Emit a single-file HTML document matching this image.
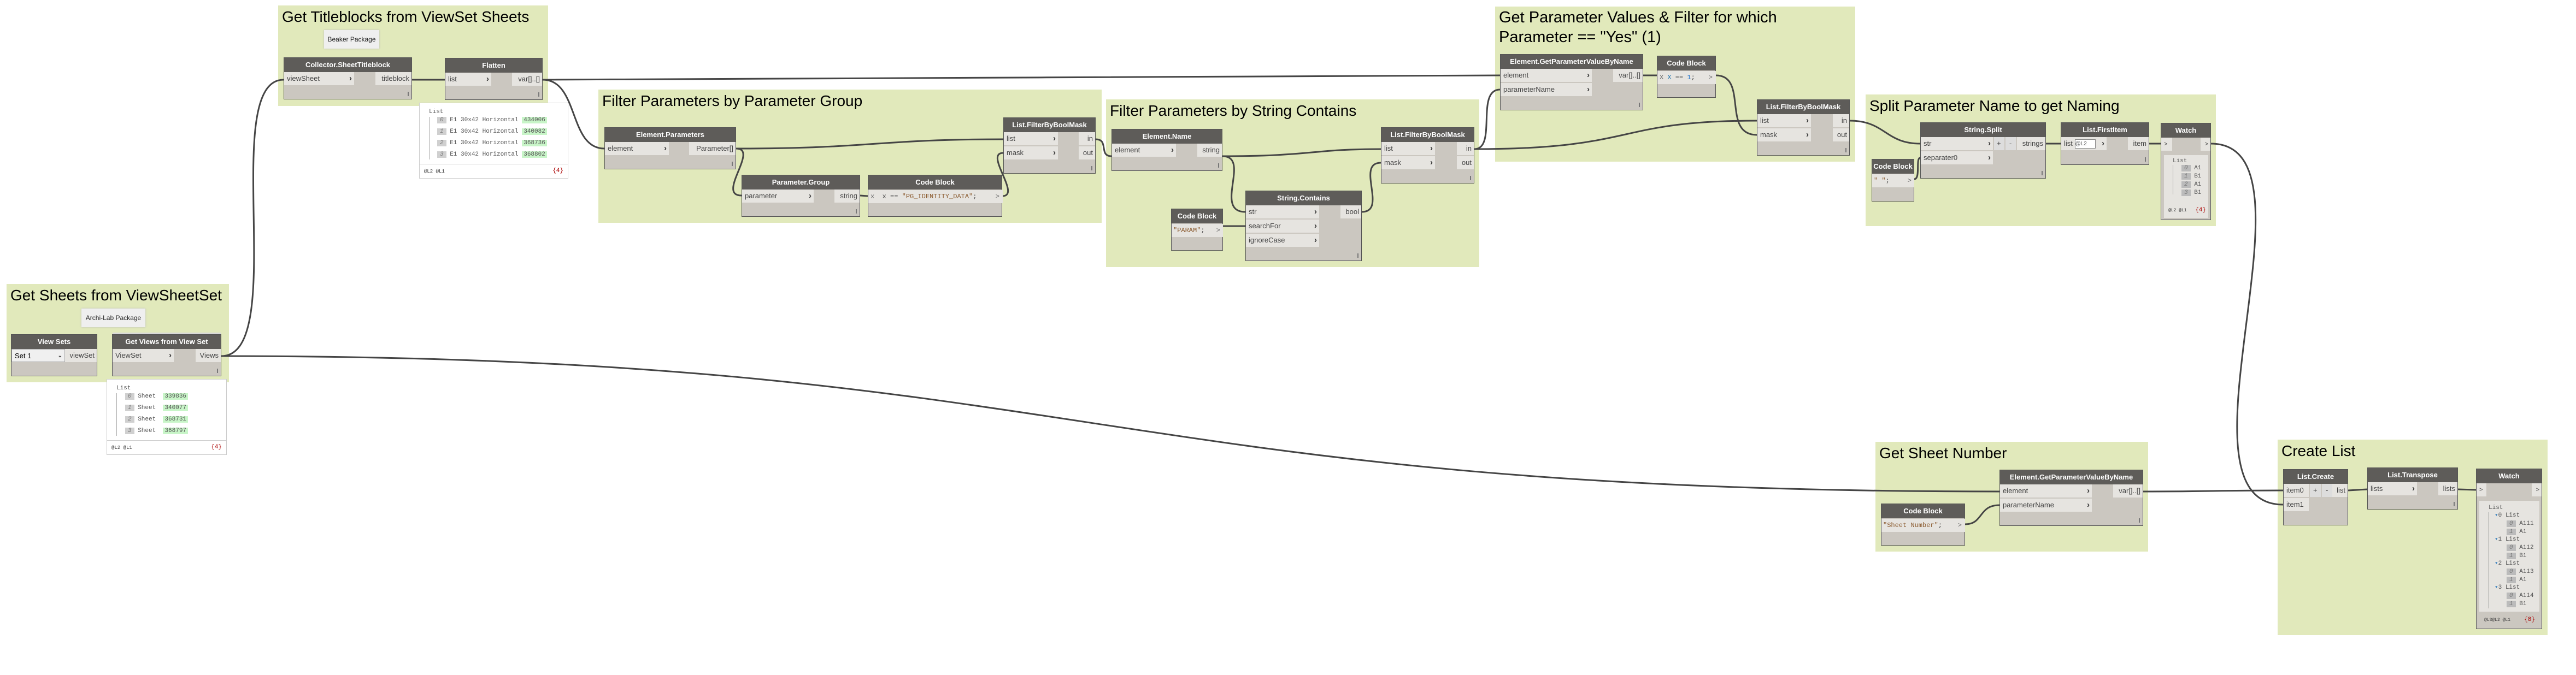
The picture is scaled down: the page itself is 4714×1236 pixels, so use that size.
<!DOCTYPE html>
<html><head><meta charset="utf-8">
<style>
body{margin:0;width:4714px;height:1236px;background:#fff;position:relative;overflow:hidden;font-family:"Liberation Sans",sans-serif}
.g{position:absolute;background:#e1e9bb}
.gt{position:absolute;left:7px;top:4px;font-size:28px;line-height:34px;color:#000;white-space:nowrap}
.note{position:absolute;background:#efefef;box-shadow:0 0 3px #bbb;font-size:12px;color:#222;text-align:center;line-height:34px}
.n{position:absolute;background:#cbc7c0;border:1px solid #555;box-sizing:border-box}
.h{height:26px;background:#5e5c59;color:#fff;font-weight:bold;font-size:13px;text-align:center;line-height:26px;white-space:nowrap;overflow:hidden}
.p{position:absolute;height:24px;background:#e6e4e0;font-size:13px;color:#444;line-height:24px;padding-left:5px;box-sizing:border-box;white-space:nowrap}
.p b{position:absolute;right:4px;top:0;font-size:15px;color:#333}
.o{position:absolute;height:24px;background:#e6e4e0;font-size:13px;color:#444;line-height:24px;padding-right:4px;text-align:right;box-sizing:border-box;white-space:nowrap}
.m{font-family:"Liberation Mono",monospace}
.s{color:#8a5a2e}
.w{position:absolute;background:#fff;border:1px solid #ccc;box-sizing:border-box}
.t{position:absolute;font-family:"Liberation Mono",monospace;font-size:11px;color:#555;white-space:nowrap;line-height:14px}
.ix{background:#d0d0d0;color:#777;font-style:italic;padding:0 5px}
.gr{background:#c8f5c8;padding:0 3px}
.grip{position:absolute;right:5px;bottom:5px;width:2px;height:8px;background:#777}
</style></head><body>

<!-- groups -->
<div class="g" style="left:509px;top:10px;width:494px;height:184px"><div class="gt">Get Titleblocks from ViewSet Sheets</div></div>
<div class="g" style="left:12px;top:520px;width:407px;height:180px"><div class="gt">Get Sheets from ViewSheetSet</div></div>
<div class="g" style="left:1095px;top:164px;width:921px;height:244px"><div class="gt">Filter Parameters by Parameter Group</div></div>
<div class="g" style="left:2024px;top:182px;width:683px;height:307px"><div class="gt">Filter Parameters by String Contains</div></div>
<div class="g" style="left:2736px;top:12px;width:659px;height:284px"><div class="gt" style="line-height:36px;top:2px;font-size:29px">Get Parameter Values &amp; Filter for which<br>Parameter == "Yes" (1)</div></div>
<div class="g" style="left:3414px;top:173px;width:641px;height:241px"><div class="gt">Split Parameter Name to get Naming</div></div>
<div class="g" style="left:3432px;top:809px;width:499px;height:201px"><div class="gt">Get Sheet Number</div></div>
<div class="g" style="left:4168px;top:805px;width:494px;height:358px"><div class="gt">Create List</div></div>

<div class="note" style="left:593px;top:55px;width:101px;height:34px">Beaker Package</div>
<div class="note" style="left:149px;top:565px;width:117px;height:34px">Archi-Lab Package</div>

<!-- wires -->
<svg style="position:absolute;left:0;top:0" width="4714" height="1236" fill="none" stroke="#454545" stroke-width="3">
<path d="M405,652 C530,652 400,146 519,146"/>
<path d="M405,652 C2000,652 2000,900 3659,900"/>
<path d="M754,146 L814,146"/>
<path d="M993,146 C1060,146 1040,272 1106,272"/>
<path d="M993,146 C1900,146 1900,138 2745,138"/>
<path d="M1347,272 C1600,272 1600,255 1836,255"/>
<path d="M1347,272 C1390,272 1310,358 1357,358"/>
<path d="M1574,358 L1588,359"/>
<path d="M1834,359 C1870,359 1800,280 1836,280"/>
<path d="M2005,255 C2030,255 2010,286 2034,286"/>
<path d="M2237,286 C2400,286 2400,273 2527,273"/>
<path d="M2237,286 C2290,286 2220,388 2279,388"/>
<path d="M2238,414 L2279,414"/>
<path d="M2492,388 C2540,388 2480,298 2527,298"/>
<path d="M2698,273 C2740,273 2700,164 2745,164"/>
<path d="M2698,273 C3000,273 2950,221 3215,221"/>
<path d="M3007,138 L3032,138"/>
<path d="M3140,138 C3200,138 3150,247 3215,247"/>
<path d="M3385,221 C3450,221 3450,263 3514,263"/>
<path d="M3503,328 C3515,328 3505,289 3514,289"/>
<path d="M3744,263 L3771,263"/>
<path d="M3933,263 L3954,263"/>
<path d="M4046,263 C4260,263 3960,924 4178,924"/>
<path d="M3596,960 C3630,960 3620,925 3659,925"/>
<path d="M3922,900 C4050,900 4050,898 4178,898"/>
<path d="M4297,898 L4332,896"/>
<path d="M4498,896 L4531,897"/>
</svg>

<!-- Collector.SheetTitleblock -->
<div class="n" style="left:519px;top:105px;width:235px;height:77px"><div class="h">Collector.SheetTitleblock</div>
<div class="p" style="left:0;top:26px;width:128px">viewSheet<b>›</b></div><div class="o" style="right:0;top:26px;width:66px">titleblock</div><div class="grip"></div></div>
<!-- Flatten -->
<div class="n" style="left:814px;top:106px;width:179px;height:77px"><div class="h">Flatten</div>
<div class="p" style="left:0;top:26px;width:84px">list<b>›</b></div><div class="o" style="right:0;top:26px;width:55px">var[]..[]</div><div class="grip"></div></div>
<div class="w" style="left:767px;top:188px;width:273px;height:139px">
<div class="t" style="left:17px;top:9px">List</div>
<div style="position:absolute;left:17px;top:25px;width:1px;height:78px;background:#aaa"></div>
<div class="t" style="left:32px;top:24px"><span class="ix">0</span> E1 30x42 Horizontal <span class="gr">434006</span></div>
<div class="t" style="left:32px;top:45px"><span class="ix">1</span> E1 30x42 Horizontal <span class="gr">340082</span></div>
<div class="t" style="left:32px;top:66px"><span class="ix">2</span> E1 30x42 Horizontal <span class="gr">368736</span></div>
<div class="t" style="left:32px;top:87px"><span class="ix">3</span> E1 30x42 Horizontal <span class="gr">368802</span></div>
<div style="position:absolute;left:0;right:0;top:111px;height:1px;background:#ccc"></div>
<div class="t" style="left:8px;top:118px;font-size:9px;color:#333">@L2 @L1</div><div class="t" style="right:8px;top:117px;color:#a00">{4}</div></div>

<!-- View Sets -->
<div class="n" style="left:20px;top:612px;width:158px;height:77px"><div class="h">View Sets</div>
<div class="p" style="left:0;top:26px;width:98px;background:#f0f0f0;border:1px solid #aaa;color:#000">Set 1<b style="font-size:10px">⌄</b></div><div class="o" style="right:0;top:26px;width:58px">viewSet</div></div>
<!-- Get Views -->
<div class="n" style="left:205px;top:612px;width:200px;height:77px;box-shadow:0 -4px 0 -1px #d8d8d8"><div class="h">Get Views from View Set</div>
<div class="p" style="left:0;top:26px;width:112px">ViewSet<b>›</b></div><div class="o" style="right:0;top:26px;width:46px">Views</div><div class="grip"></div></div>
<div class="w" style="left:195px;top:694px;width:220px;height:139px">
<div class="t" style="left:17px;top:9px">List</div>
<div style="position:absolute;left:17px;top:25px;width:1px;height:78px;background:#aaa"></div>
<div class="t" style="left:33px;top:24px"><span class="ix">0</span> Sheet &nbsp;<span class="gr">339836</span></div>
<div class="t" style="left:33px;top:45px"><span class="ix">1</span> Sheet &nbsp;<span class="gr">340077</span></div>
<div class="t" style="left:33px;top:66px"><span class="ix">2</span> Sheet &nbsp;<span class="gr">368731</span></div>
<div class="t" style="left:33px;top:87px"><span class="ix">3</span> Sheet &nbsp;<span class="gr">368797</span></div>
<div style="position:absolute;left:0;right:0;top:111px;height:1px;background:#ccc"></div>
<div class="t" style="left:8px;top:118px;font-size:9px;color:#333">@L2 @L1</div><div class="t" style="right:8px;top:117px;color:#a00">{4}</div></div>

<!-- Element.Parameters -->
<div class="n" style="left:1106px;top:233px;width:241px;height:77px"><div class="h">Element.Parameters</div>
<div class="p" style="left:0;top:26px;width:117px">element<b>›</b></div><div class="o" style="right:0;top:26px;width:85px">Parameter[]</div><div class="grip"></div></div>
<div class="n" style="left:1357px;top:320px;width:217px;height:77px"><div class="h">Parameter.Group</div>
<div class="p" style="left:0;top:26px;width:131px">parameter<b>›</b></div><div class="o" style="right:0;top:26px;width:46px">string</div><div class="grip"></div></div>
<div class="n" style="left:1588px;top:320px;width:246px;height:77px"><div class="h">Code Block</div>
<div class="p m" style="left:0;top:27px;width:246px;font-size:12px;padding-left:4px"><span style="color:#666">x</span> &nbsp;x == <span class="s">"PG_IDENTITY_DATA"</span>; <span style="position:absolute;right:6px;color:#666">&gt;</span></div></div>
<div class="n" style="left:1836px;top:215px;width:169px;height:103px"><div class="h">List.FilterByBoolMask</div>
<div class="p" style="left:0;top:26px;width:99px">list<b>›</b></div><div class="p" style="left:0;top:52px;width:99px">mask<b>›</b></div>
<div class="o" style="right:0;top:26px;width:30px">in</div><div class="o" style="right:0;top:52px;width:30px">out</div><div class="grip"></div></div>

<!-- String contains group -->
<div class="n" style="left:2034px;top:236px;width:203px;height:77px"><div class="h">Element.Name</div>
<div class="p" style="left:0;top:26px;width:117px">element<b>›</b></div><div class="o" style="right:0;top:26px;width:45px">string</div><div class="grip"></div></div>
<div class="n" style="left:2279px;top:349px;width:213px;height:129px"><div class="h">String.Contains</div>
<div class="p" style="left:0;top:26px;width:134px">str<b>›</b></div><div class="p" style="left:0;top:52px;width:134px">searchFor<b>›</b></div><div class="p" style="left:0;top:78px;width:134px">ignoreCase<b>›</b></div>
<div class="o" style="right:0;top:26px;width:38px">bool</div><div class="grip"></div></div>
<div class="n" style="left:2143px;top:382px;width:95px;height:77px"><div class="h">Code Block</div>
<div class="p m" style="left:0;top:27px;width:94px;font-size:12px;padding-left:3px"><span class="s">"PARAM"</span>; <span style="position:absolute;right:5px;color:#666">&gt;</span></div></div>
<div class="n" style="left:2527px;top:233px;width:171px;height:103px"><div class="h">List.FilterByBoolMask</div>
<div class="p" style="left:0;top:26px;width:98px">list<b>›</b></div><div class="p" style="left:0;top:52px;width:98px">mask<b>›</b></div>
<div class="o" style="right:0;top:26px;width:31px">in</div><div class="o" style="right:0;top:52px;width:31px">out</div><div class="grip"></div></div>

<!-- Get Param values -->
<div class="n" style="left:2745px;top:99px;width:262px;height:103px"><div class="h">Element.GetParameterValueByName</div>
<div class="p" style="left:0;top:26px;width:167px">element<b>›</b></div><div class="p" style="left:0;top:52px;width:167px">parameterName<b>›</b></div>
<div class="o" style="right:0;top:26px;width:54px">var[]..[]</div><div class="grip"></div></div>
<div class="n" style="left:3032px;top:102px;width:108px;height:77px"><div class="h">Code Block</div>
<div class="p m" style="left:0;top:27px;width:107px;font-size:12px;padding-left:4px"><span style="color:#666">X</span> <span style="color:#2a7ab0">X</span> == <span style="color:#2a7ad0">1</span>; <span style="position:absolute;right:6px;color:#666">&gt;</span></div></div>
<div class="n" style="left:3215px;top:182px;width:170px;height:103px"><div class="h">List.FilterByBoolMask</div>
<div class="p" style="left:0;top:26px;width:98px">list<b>›</b></div><div class="p" style="left:0;top:52px;width:98px">mask<b>›</b></div>
<div class="o" style="right:0;top:26px;width:30px">in</div><div class="o" style="right:0;top:52px;width:30px">out</div><div class="grip"></div></div>

<!-- Split -->
<div class="n" style="left:3514px;top:224px;width:230px;height:103px"><div class="h">String.Split</div>
<div class="p" style="left:0;top:26px;width:132px">str<b>›</b></div><div class="p" style="left:0;top:52px;width:132px">separater0<b>›</b></div>
<div class="p" style="left:134px;top:26px;width:19px;padding-left:5px;background:#ddd">+</div><div class="p" style="left:155px;top:26px;width:19px;padding-left:7px;background:#ddd">-</div>
<div class="o" style="right:0;top:26px;width:52px">strings</div><div class="grip"></div></div>
<div class="n" style="left:3425px;top:291px;width:78px;height:78px"><div class="h">Code Block</div>
<div class="p m" style="left:0;top:27px;width:77px;font-size:12px;padding-left:3px"><span class="s">" "</span>; <span style="position:absolute;right:5px;color:#666">&gt;</span></div></div>
<div class="n" style="left:3771px;top:224px;width:162px;height:78px"><div class="h">List.FirstItem</div>
<div class="p" style="left:0;top:26px;width:83px">list <span style="display:inline-block;width:36px;height:15px;border:1px solid #888;background:#fff;font-size:10px;line-height:15px;vertical-align:middle;color:#555">@L2</span><b>›</b></div>
<div class="o" style="right:0;top:26px;width:38px">item</div><div class="grip"></div></div>
<div class="n" style="left:3954px;top:225px;width:92px;height:178px"><div class="h">Watch</div>
<div class="p" style="left:0;top:26px;width:20px;font-size:11px">&gt;</div><div class="o" style="right:0;top:26px;width:18px;font-size:11px">&gt;</div>
<div style="position:absolute;left:5px;top:58px;width:81px;height:115px;background:#e6e4e0">
<div class="t" style="left:16px;top:4px">List</div>
<div style="position:absolute;left:16px;top:18px;width:1px;height:54px;background:#999"></div>
<div class="t" style="left:32px;top:17px"><span class="ix" style="background:#bbb">0</span> A1</div>
<div class="t" style="left:32px;top:32px"><span class="ix" style="background:#bbb">1</span> B1</div>
<div class="t" style="left:32px;top:47px"><span class="ix" style="background:#bbb">2</span> A1</div>
<div class="t" style="left:32px;top:62px"><span class="ix" style="background:#bbb">3</span> B1</div>
<div class="t" style="left:8px;top:95px;font-size:8px;color:#333">@L2 @L1</div><div class="t" style="right:4px;top:94px;color:#a00">{4}</div></div></div>

<!-- Sheet Number -->
<div class="n" style="left:3659px;top:860px;width:263px;height:103px"><div class="h">Element.GetParameterValueByName</div>
<div class="p" style="left:0;top:26px;width:168px">element<b>›</b></div><div class="p" style="left:0;top:52px;width:168px">parameterName<b>›</b></div>
<div class="o" style="right:0;top:26px;width:54px">var[]..[]</div><div class="grip"></div></div>
<div class="n" style="left:3442px;top:922px;width:154px;height:77px"><div class="h">Code Block</div>
<div class="p m" style="left:0;top:27px;width:153px;font-size:12px;padding-left:3px"><span class="s">"Sheet Number"</span>; <span style="position:absolute;right:6px;color:#666">&gt;</span></div></div>

<!-- Create list -->
<div class="n" style="left:4178px;top:859px;width:119px;height:103px"><div class="h">List.Create</div>
<div class="p" style="left:0;top:26px;width:46px">item0</div><div class="p" style="left:0;top:52px;width:46px">item1</div>
<div class="p" style="left:48px;top:26px;width:20px;padding-left:6px;background:#ddd">+</div><div class="p" style="left:70px;top:26px;width:20px;padding-left:7px;background:#ddd">-</div>
<div class="o" style="right:0;top:26px;width:28px">list</div></div>
<div class="n" style="left:4332px;top:856px;width:166px;height:77px"><div class="h">List.Transpose</div>
<div class="p" style="left:0;top:26px;width:90px">lists<b>›</b></div><div class="o" style="right:0;top:26px;width:35px">lists</div><div class="grip"></div></div>
<div class="n" style="left:4531px;top:858px;width:121px;height:294px"><div class="h">Watch</div>
<div class="p" style="left:0;top:26px;width:18px;font-size:11px">&gt;</div><div class="o" style="right:0;top:26px;width:18px;font-size:11px">&gt;</div>
<div style="position:absolute;left:5px;top:58px;width:110px;height:203px;background:#e6e4e0">
<div class="t" style="left:17px;top:6px">List</div>
<div style="position:absolute;left:17px;top:21px;width:1px;height:176px;background:#999"></div>
<div class="t" style="left:28px;top:20px"><span style="color:#4a8ac0">▾</span>0 List</div>
<div class="t" style="left:50px;top:35px"><span class="ix" style="background:#bbb">0</span> A111</div>
<div class="t" style="left:50px;top:50px"><span class="ix" style="background:#bbb">1</span> A1</div>
<div class="t" style="left:28px;top:64px"><span style="color:#4a8ac0">▾</span>1 List</div>
<div class="t" style="left:50px;top:79px"><span class="ix" style="background:#bbb">0</span> A112</div>
<div class="t" style="left:50px;top:94px"><span class="ix" style="background:#bbb">1</span> B1</div>
<div class="t" style="left:28px;top:108px"><span style="color:#4a8ac0">▾</span>2 List</div>
<div class="t" style="left:50px;top:123px"><span class="ix" style="background:#bbb">0</span> A113</div>
<div class="t" style="left:50px;top:138px"><span class="ix" style="background:#bbb">1</span> A1</div>
<div class="t" style="left:28px;top:152px"><span style="color:#4a8ac0">▾</span>3 List</div>
<div class="t" style="left:50px;top:167px"><span class="ix" style="background:#bbb">0</span> A114</div>
<div class="t" style="left:50px;top:182px"><span class="ix" style="background:#bbb">1</span> B1</div></div>
<div class="t" style="left:14px;top:270px;font-size:8px;color:#333">@L3@L2 @L1</div><div class="t" style="right:12px;top:269px;color:#a00">{8}</div></div>

</body></html>
